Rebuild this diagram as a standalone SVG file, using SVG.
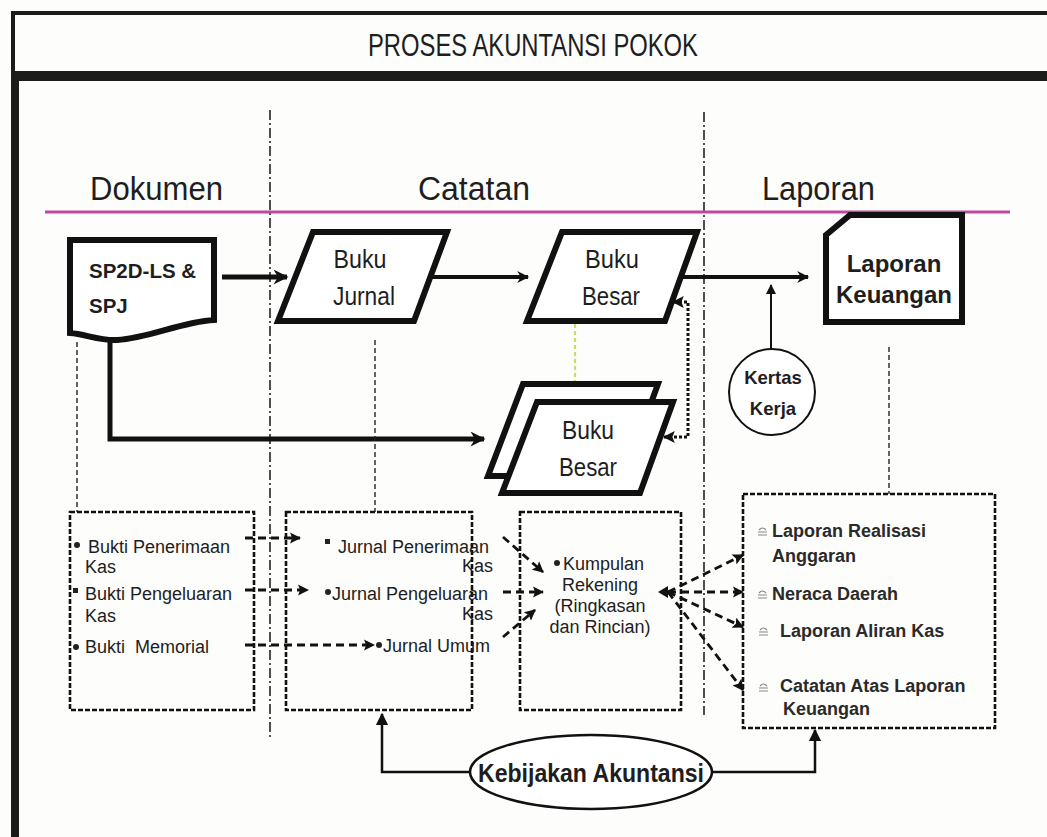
<svg xmlns="http://www.w3.org/2000/svg" width="1047" height="837" viewBox="0 0 1047 837">
<defs>
<style>
text{font-family:"Liberation Sans",Arial,sans-serif;fill:#1e1e1e}
.shape{fill:#fff;stroke:#111;stroke-width:6;stroke-linejoin:miter}
.box{fill:none;stroke:#111;stroke-width:2.6;stroke-dasharray:5 2}
.thick{fill:none;stroke:#111;stroke-linecap:butt}
.dash{fill:none;stroke:#111;stroke-width:2.8;stroke-dasharray:8 5}
.thin{fill:none;stroke:#222;stroke-width:1.4;stroke-dasharray:5 3}
.lane{fill:none;stroke:#222;stroke-width:1.6;stroke-dasharray:10 3 2 3}
.sans{font-size:18px}
.rep{font-size:18px;font-weight:bold;fill:#2a2a2a}
.ico{fill:none;stroke:#888;stroke-width:1.2}
.col{font-size:33px}
</style>
<marker id="big" viewBox="0 0 10 10" refX="9" refY="5" markerWidth="3.4" markerHeight="3" orient="auto" markerUnits="strokeWidth">
<path d="M0,0 L10,5 L0,10 L3,5 z" fill="#111"/>
</marker>
<marker id="sm" viewBox="0 0 10 10" refX="9" refY="5" markerWidth="4" markerHeight="4" orient="auto-start-reverse" markerUnits="strokeWidth">
<path d="M0,0 L10,5 L0,10 L2,5 z" fill="#111"/>
</marker>
<marker id="tiny" viewBox="0 0 10 10" refX="9" refY="5" markerWidth="5" markerHeight="5" orient="auto-start-reverse" markerUnits="strokeWidth">
<path d="M0,0 L10,5 L0,10 z" fill="#111"/>
</marker>
</defs>
<rect width="1047" height="837" fill="#fdfdfb"/>

<g id="frame">
<rect x="11" y="11" width="1036" height="4" fill="#1c1c1c"/>
<rect x="11" y="71" width="1036" height="10" fill="#1c1c1c"/>
<rect x="11" y="11" width="4" height="826" fill="#1c1c1c"/>
<rect x="11" y="71" width="8" height="766" fill="#1c1c1c"/>
<text x="368" y="56" font-size="31" textLength="330" lengthAdjust="spacingAndGlyphs">PROSES AKUNTANSI POKOK</text>
</g>

<g id="lanes">
<path class="lane" d="M270,110 V737"/>
<path class="lane" d="M704,112 V715"/>
<path d="M45,212 H1010" stroke="#c2479f" stroke-width="3" fill="none"/>
<text class="col" x="90" y="200" textLength="133" lengthAdjust="spacingAndGlyphs">Dokumen</text>
<text class="col" x="418" y="200" textLength="112" lengthAdjust="spacingAndGlyphs">Catatan</text>
<text class="col" x="762" y="200" textLength="113" lengthAdjust="spacingAndGlyphs">Laporan</text>
</g>

<g id="connectors">
<path class="thick" stroke-width="5" d="M222,277 H287" marker-end="url(#big)"/>
<path class="thick" stroke-width="4" d="M432,277 H528" marker-end="url(#big)"/>
<path class="thick" stroke-width="4" d="M683,277 H808" marker-end="url(#big)"/>
<path class="thick" stroke-width="5" d="M110,338 V439 H484" marker-end="url(#big)"/>
<path class="thick" stroke-width="2" d="M771,350 V285" marker-end="url(#tiny)"/>
<path class="thick" stroke-width="3" stroke-dasharray="3 2" d="M664,437 H688 V302 H673" marker-start="url(#sm)" marker-end="url(#sm)"/>
<path d="M575,324 V382" stroke="#c8dc6c" stroke-width="2.2" stroke-dasharray="4 3" fill="none"/>
<path class="thin" d="M77,342 V512"/>
<path class="thin" d="M375,340 V512"/>
<path class="thin" d="M889,347 V494"/>
<path class="dash" d="M245,538 H300" marker-end="url(#sm)"/>
<path class="dash" d="M245,590 H308" marker-end="url(#sm)"/>
<path class="dash" d="M245,645 H374" marker-end="url(#sm)"/>
<path class="dash" d="M503,537 L543,572" marker-end="url(#sm)"/>
<path class="dash" d="M503,592 H543" marker-end="url(#sm)"/>
<path class="dash" d="M503,637 L535,610" marker-end="url(#sm)"/>
<path class="dash" d="M668,592 L743,555" marker-end="url(#sm)"/>
<path class="dash" d="M668,592 H743" marker-end="url(#sm)"/>
<path class="dash" d="M668,592 L743,627" marker-end="url(#sm)"/>
<path class="dash" d="M668,592 L743,690" marker-end="url(#sm)"/>
<path d="M668,586 L658,592 L668,598 z" fill="#111"/>
<path class="thick" stroke-width="2.5" d="M470,772 H382 V714" marker-end="url(#tiny)"/>
<path class="thick" stroke-width="2.5" d="M713,772 H815 V730" marker-end="url(#tiny)"/>
</g>

<g id="sp2d">
<path class="shape" d="M70,240 H214 V320 C180,322 150,338 117,340 C100,341 85,334 70,333 Z"/>
<text x="89" y="278" font-size="20.5" font-weight="bold">SP2D-LS &amp;</text>
<text x="89" y="313" font-size="20.5" font-weight="bold">SPJ</text>
</g>

<g id="buku-jurnal">
<path class="shape" d="M313,232 H447 L414,321 H278 Z"/>
<text x="360" y="268" font-size="25" text-anchor="middle" textLength="53" lengthAdjust="spacingAndGlyphs">Buku</text>
<text x="364" y="305" font-size="25" text-anchor="middle" textLength="62" lengthAdjust="spacingAndGlyphs">Jurnal</text>
</g>

<g id="buku-besar">
<path class="shape" d="M562,232 H697 L665,321 H527 Z"/>
<text x="612" y="268" font-size="25" text-anchor="middle" textLength="54" lengthAdjust="spacingAndGlyphs">Buku</text>
<text x="611" y="305" font-size="25" text-anchor="middle" textLength="58" lengthAdjust="spacingAndGlyphs">Besar</text>
</g>

<g id="laporan-keuangan">
<path class="shape" d="M826,235 L850,215 H962 V322 H826 Z"/>
<text x="894" y="272" font-size="24" font-weight="bold" text-anchor="middle">Laporan</text>
<text x="894" y="303" font-size="24" font-weight="bold" text-anchor="middle">Keuangan</text>
</g>

<g id="kertas-kerja">
<circle cx="772" cy="392" r="43" fill="#fff" stroke="#111" stroke-width="2"/>
<text x="773" y="384" font-size="18.5" font-weight="bold" text-anchor="middle">Kertas</text>
<text x="773" y="415" font-size="18.5" font-weight="bold" text-anchor="middle">Kerja</text>
</g>

<g id="buku-besar-stack">
<path class="shape" d="M523,384 H658 L624,476 H488 Z"/>
<path class="shape" d="M537,402 H673 L640,493 H502 Z"/>
<text x="588" y="439" font-size="25" text-anchor="middle" textLength="52" lengthAdjust="spacingAndGlyphs">Buku</text>
<text x="588" y="476" font-size="25" text-anchor="middle" textLength="58" lengthAdjust="spacingAndGlyphs">Besar</text>
</g>

<g id="bukti">
<rect class="box" x="70" y="512" width="184" height="198"/>
<circle cx="77" cy="545" r="3" fill="#222"/>
<text class="sans" x="88" y="553">Bukti Penerimaan</text>
<text class="sans" x="85" y="573">Kas</text>
<rect x="73" y="588" width="5" height="5" fill="#222"/>
<text class="sans" x="85" y="600">Bukti Pengeluaran</text>
<text class="sans" x="85" y="622">Kas</text>
<circle cx="76" cy="647" r="3" fill="#222"/>
<text class="sans" x="85" y="653" xml:space="preserve">Bukti  Memorial</text>
</g>

<g id="jurnal">
<rect class="box" x="286" y="512" width="186" height="198"/>
<rect x="325" y="539" width="5" height="5" fill="#222"/>
<text class="sans" x="338" y="553">Jurnal Penerimaan</text>
<text class="sans" x="493" y="572" text-anchor="end">Kas</text>
<circle cx="328" cy="592" r="3" fill="#222"/>
<text class="sans" x="332" y="600">Jurnal Pengeluaran</text>
<text class="sans" x="493" y="620" text-anchor="end">Kas</text>
<circle cx="379" cy="645" r="3" fill="#222"/>
<text class="sans" x="383" y="652">Jurnal Umum</text>
</g>

<g id="kumpulan">
<rect class="box" x="520" y="512" width="161" height="198"/>
<circle cx="557" cy="563" r="3" fill="#222"/>
<text class="sans" x="563" y="570">Kumpulan</text>
<text class="sans" x="600" y="591" text-anchor="middle">Rekening</text>
<text class="sans" x="600" y="612" text-anchor="middle">(Ringkasan</text>
<text class="sans" x="600" y="633" text-anchor="middle">dan Rincian)</text>
</g>

<g id="laporan-list">
<rect class="box" x="743" y="494" width="252" height="234"/>
<path class="ico" d="M758,532 h9 M759,530 q3.5,-4 7,0 M758,535 h9"/>
<text class="rep" x="772" y="537">Laporan Realisasi</text>
<text class="rep" x="772" y="562">Anggaran</text>
<path class="ico" d="M758,595 h9 M759,593 q3.5,-4 7,0 M758,598 h9"/>
<text class="rep" x="772" y="600">Neraca Daerah</text>
<path class="ico" d="M759,632 h9 M760,630 q3.5,-4 7,0 M759,635 h9"/>
<text class="rep" x="780" y="637">Laporan Aliran Kas</text>
<path class="ico" d="M759,688 h9 M760,686 q3.5,-4 7,0 M759,691 h9"/>
<text class="rep" x="780" y="692">Catatan Atas Laporan</text>
<text class="rep" x="783" y="715">Keuangan</text>
</g>

<g id="kebijakan">
<ellipse cx="591" cy="772" rx="121" ry="37" fill="#fff" stroke="#111" stroke-width="2.5"/>
<text x="591" y="782" font-size="26" font-weight="bold" text-anchor="middle" textLength="226" lengthAdjust="spacingAndGlyphs">Kebijakan Akuntansi</text>
</g>
</svg>
